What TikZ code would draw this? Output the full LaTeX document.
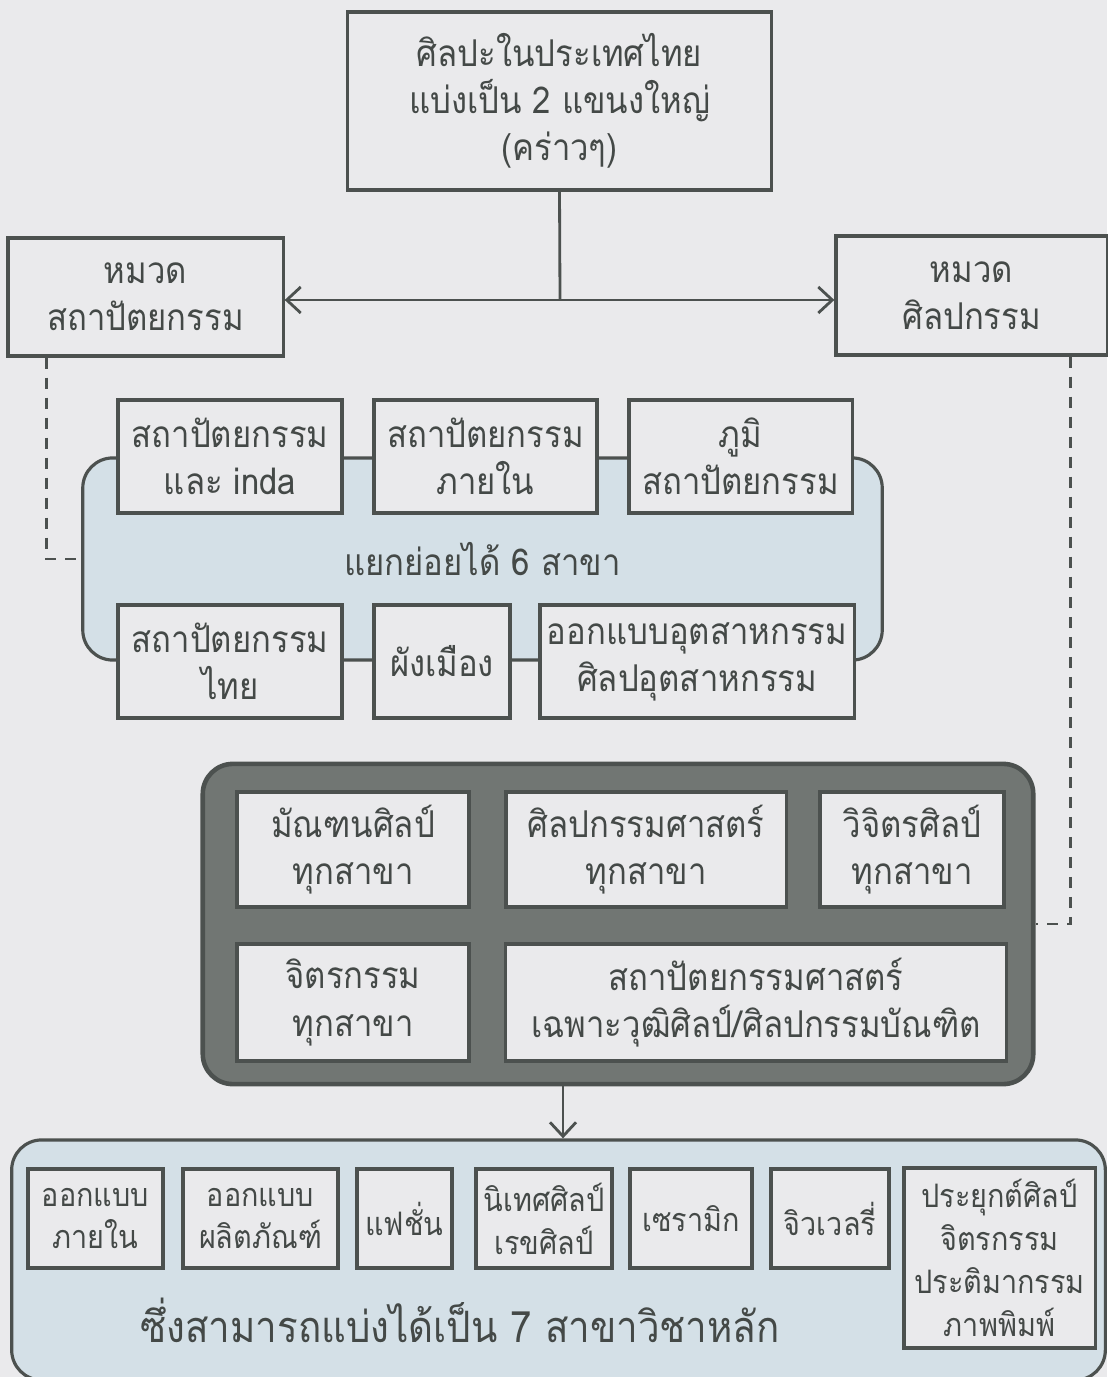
\documentclass[tikz,border=0pt]{standalone}
\usepackage{fontspec}
\newfontfamily\thaifont[Script=Thai,FakeStretch=0.89]{Loma}
\usepackage{tikz}
\usetikzlibrary{arrows.meta,positioning}

\definecolor{paper}{RGB}{234,234,236}
\definecolor{ink}{RGB}{68,73,71}
\definecolor{frame}{RGB}{76,81,79}
\definecolor{pale}{RGB}{212,224,231}
\definecolor{slate}{RGB}{113,118,115}

\begin{document}
\begin{tikzpicture}[
  x=0.01cm,y=-0.01cm,
  >={Straight Barb[length=1.4mm,width=2.6mm]},
  cell/.style={rectangle,draw=frame,line width=0.9pt,fill=paper,text=ink,
               align=center,inner sep=0pt,
               font=\thaifont\fontsize{10.5}{13.4}\selectfont},
  small/.style={cell,font=\thaifont\fontsize{9.2}{12.2}\selectfont},
  group/.style={rectangle,rounded corners=0.3cm,draw=frame,line width=0.9pt,
                fill=pale,text=ink,inner sep=0pt,
                font=\thaifont\fontsize{10.5}{13.4}\selectfont},
  link/.style={frame,line width=0.8pt},
  dashline/.style={frame,line width=0.8pt,dash pattern=on 1.1mm off 0.9mm}]

\useasboundingbox (0,0) rectangle (1107,1377);
\fill[paper] (0,0) rectangle (1107,1377);

%% ---------- top and the two categories ----------
\node[cell,minimum width=4.23cm,minimum height=1.78cm](top) at (559.5,101)
  {ศิลปะในประเทศไทย\\แบ่งเป็น 2 แขนงใหญ่\\(คร่าวๆ)};
\node[cell,minimum width=2.75cm,minimum height=1.18cm](archi) at (145.5,297)
  {หมวด\\สถาปัตยกรรม};
\node[cell,minimum width=2.71cm,minimum height=1.19cm](arts) at (971.5,295.5)
  {หมวด\\ศิลปกรรม};
\coordinate (split) at (560,300);
\draw[link](top.south)--(split);
\draw[link,<->](split -| archi.east)--(split -| arts.west);

%% ---------- architecture: 6 branches ----------
\node[group,minimum width=7.99cm,minimum height=2.02cm](six) at (482.5,559)
  {แยกย่อยได้ 6 สาขา};
\node[cell,minimum width=2.24cm,minimum height=1.13cm](A1) at (230,456.5)
  {สถาปัตยกรรม\\และ inda};
\node[cell,minimum width=2.23cm,minimum height=1.13cm](A2) at (485.5,456.5)
  {สถาปัตยกรรม\\ภายใน};
\node[cell,minimum width=2.23cm,minimum height=1.13cm](A3) at (740.5,456.5)
  {ภูมิ\\สถาปัตยกรรม};
\node[cell,minimum width=2.24cm,minimum height=1.13cm](A4) at (230,661.5)
  {สถาปัตยกรรม\\ไทย};
\node[cell,minimum width=1.36cm,minimum height=1.13cm](A5) at (442,661.5)
  {ผังเมือง};
\node[cell,minimum width=3.14cm,minimum height=1.13cm](A6) at (697,661.5)
  {ออกแบบอุตสาหกรรม\\ศิลปอุตสาหกรรม};
\draw[dashline]([xshift=0.4cm]archi.south west) |- (six.west);

%% ---------- fine arts faculties ----------
\node[group,fill=slate,line width=1.3pt,minimum width=8.3cm,minimum height=3.2cm]
  (core) at (618,924){};
\node[cell,minimum width=2.32cm,minimum height=1.15cm](F1) at (353,849.5)
  {มัณฑนศิลป์\\ทุกสาขา};
\node[cell,minimum width=2.8cm,minimum height=1.15cm](F2) at (646,849.5)
  {ศิลปกรรมศาสตร์\\ทุกสาขา};
\node[cell,minimum width=1.84cm,minimum height=1.15cm](F3) at (912,849.5)
  {วิจิตรศิลป์\\ทุกสาขา};
\node[cell,minimum width=2.32cm,minimum height=1.17cm](F4) at (353,1002.5)
  {จิตรกรรม\\ทุกสาขา};
\node[cell,minimum width=5.0cm,minimum height=1.17cm](F5) at (756,1002.5)
  {สถาปัตยกรรมศาสตร์\\เฉพาะวุฒิศิลป์/ศิลปกรรมบัณฑิต};
\draw[dashline]([xshift=-0.38cm]arts.south east) |- (core.east);

%% ---------- 7 main majors ----------
\node[group,minimum width=10.93cm,minimum height=2.4cm](majors) at (558.5,1260){};
\coordinate (drop) at (563,1110);
\draw[link,->](core.south -| drop)--(majors.north -| drop);
\foreach \n/\x/\w/\t in {M1/95.5/1.35/{ออกแบบ\\ภายใน},
                         M2/260.5/1.55/{ออกแบบ\\ผลิตภัณฑ์},
                         M3/404.5/0.95/{แฟชั่น},
                         M4/544/1.36/{นิเทศศิลป์\\เรขศิลป์},
                         M5/691/1.22/{เซรามิก},
                         M6/830/1.18/{จิวเวลรี่}}
  \node[small,minimum width=\w cm,minimum height=0.99cm](\n) at (\x,1218.5){\t};
\node[small,minimum width=1.91cm,minimum height=1.8cm](M7) at (999.5,1258)
  {ประยุกต์ศิลป์\\จิตรกรรม\\ประติมากรรม\\ภาพพิมพ์};
\node[text=ink,font=\thaifont\fontsize{12.3}{15}\selectfont](title) at (460,1320)
  {ซึ่งสามารถแบ่งได้เป็น 7 สาขาวิชาหลัก};

\end{tikzpicture}
\end{document}
